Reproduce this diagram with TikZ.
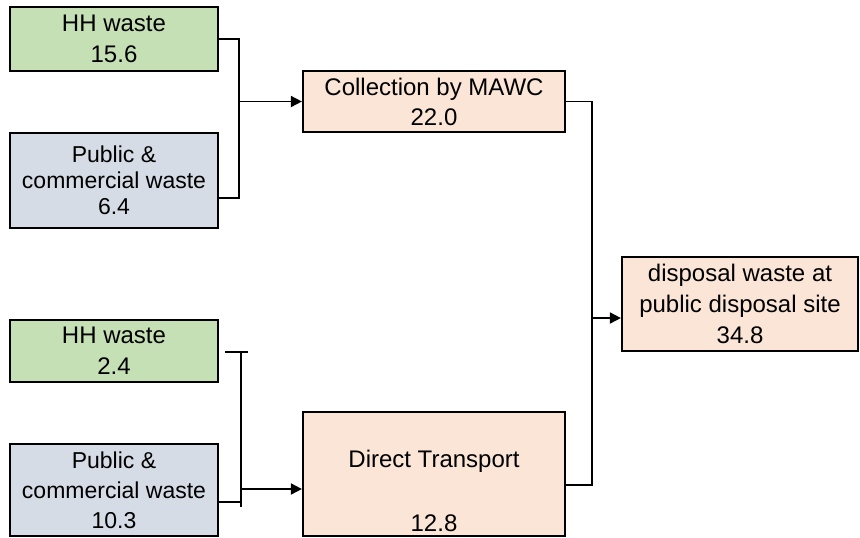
\documentclass[tikz,border=0pt]{standalone}
\usepackage{fontspec}
\setmainfont{Liberation Sans}
\usetikzlibrary{arrows.meta}
\definecolor{hhgreen}{RGB}{197,224,180}
\definecolor{pubgrey}{RGB}{214,220,229}
\definecolor{peach}{RGB}{251,229,214}
\tikzset{
  box/.style={draw=black, line width=1.1pt, rectangle, inner sep=0pt, align=center,
    font=\fontsize{12}{15.5}\selectfont},
  conn/.style={draw=black, line width=0.9pt},
  arr/.style={conn, -{Triangle[length=5.5pt,width=5.5pt]}},
  txt/.style={inner sep=0pt, align=center, font=\fontsize{12}{15.5}\selectfont}
}
\begin{document}
\begin{tikzpicture}[x=0.5pt,y=-0.5pt]
\useasboundingbox (0,0) rectangle (860,537);
% boxes
\node[box, fill=hhgreen, minimum width=104pt, minimum height=32pt] (hh1) at (114,39) {HH waste\\15.6};
\node[box, fill=pubgrey, minimum width=104pt, minimum height=47.5pt,
  font=\fontsize{11.5}{13}\selectfont] (pub1) at (114,180.5) {Public \&\\commercial waste\\6.4};
\node[box, fill=hhgreen, minimum width=104pt, minimum height=31pt] (hh2) at (114,351) {HH waste\\2.4};
\node[box, fill=pubgrey, minimum width=104pt, minimum height=46pt,
  font=\fontsize{11.5}{15}\selectfont] (pub2) at (114,490) {Public \&\\commercial waste\\10.3};
\node[box, fill=peach, minimum width=131pt, minimum height=30.5pt,
  font=\fontsize{12}{15}\selectfont] (coll) at (434,101.5) {Collection by MAWC\\22.0};
\node[box, fill=peach, minimum width=131pt, minimum height=62pt] (direct) at (434,474) {};
\node[txt] (dtname) at (434,461) {Direct Transport};
\node[txt] (dtval) at (434,523) {12.8};
\node[box, fill=peach, minimum width=118pt, minimum height=47pt,
  font=\fontsize{12}{15.3}\selectfont] (disp) at (740,304) {disposal waste at\\public disposal site\\34.8};
% upper bracket
\coordinate (b1t) at (239,39);
\coordinate (b1b) at (239,198);
\coordinate (b1m) at (239,101.5);
\draw[conn] (hh1.east) -- (b1t) -- (b1b) -- (b1b -| pub1.east);
\draw[arr] (b1m) -- (coll.west);
% right bracket
\coordinate (b2t) at (592,101.5);
\coordinate (b2b) at (592,485);
\coordinate (b2m) at (592,318);
\draw[conn] (coll.east) -- (b2t) -- (b2b) -- (b2b -| direct.east);
\draw[arr] (b2m) -- (b2m -| disp.west);
% lower bracket
\coordinate (b3l) at (225,352);
\coordinate (b3r) at (248,352);
\coordinate (b3t) at (241,352);
\coordinate (b3b) at (241,507);
\coordinate (b3p) at (241,502);
\coordinate (b3m) at (241,489);
\draw[conn] (b3l) -- (b3r);
\draw[conn] (b3t) -- (b3b);
\draw[conn] (b3p -| pub2.east) -- (b3p);
\draw[arr] (b3m) -- (b3m -| direct.west);
\end{tikzpicture}
\end{document}
